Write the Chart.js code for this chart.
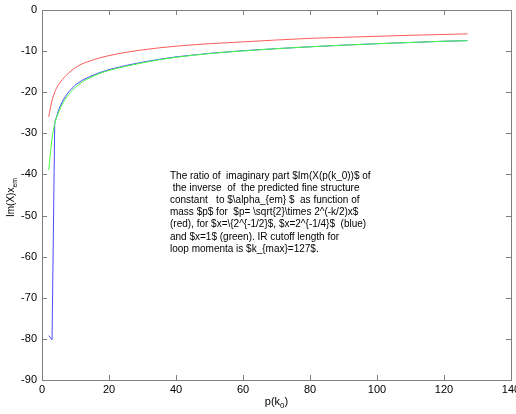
<!DOCTYPE html>
<html>
<head>
<meta charset="utf-8">
<script src="https://cdn.jsdelivr.net/npm/chart.js@4.4.1/dist/chart.umd.min.js"></script>
<style>
  html, body { margin: 0; padding: 0; background: #ffffff; }
  #wrap { width: 516px; height: 414px; }
</style>
</head>
<body>
<div id="wrap"><canvas id="c" width="516" height="414"></canvas></div>
<script>
// Momenta p(k_0) sampled along the curves
const pRed   = [2, 3, 4, 5, 6, 7, 8, 9, 10, 12, 14, 17, 20, 25, 30, 35, 40, 50, 60, 70, 80, 90, 100, 110, 120, 127];
const imRed  = [-26.0, -22.0, -19.6, -18.1, -17.0, -16.1, -15.3, -14.6, -14.0, -13.1, -12.5, -11.7, -11.1, -10.3, -9.7, -9.2, -8.8, -8.2, -7.75, -7.3, -6.9, -6.65, -6.4, -6.15, -5.95, -5.8];

const pBlue  = [2, 3, 3.8, 5, 6, 7, 8, 9, 10, 12, 14, 17, 20, 25, 30, 35, 40, 50, 60, 70, 80, 90, 100, 110, 120, 127];
const imBlue = [-79.2, -80.2, -27.4, -24.2, -22.4, -21.0, -19.9, -19.0, -18.2, -17.1, -16.3, -15.3, -14.5, -13.5, -12.7, -12.0, -11.4, -10.55, -9.9, -9.4, -8.95, -8.55, -8.2, -7.9, -7.6, -7.45];

const pGreen  = [2, 3, 4, 5, 6, 7, 8, 9, 10, 12, 14, 17, 20, 25, 30, 35, 40, 50, 60, 70, 80, 90, 100, 110, 120, 127];
const imGreen = [-38.9, -31.3, -27.0, -24.8, -23.0, -21.6, -20.5, -19.6, -18.8, -17.5, -16.6, -15.5, -14.7, -13.7, -12.85, -12.1, -11.5, -10.6, -9.95, -9.4, -8.95, -8.55, -8.2, -7.9, -7.6, -7.45];

const xTicks = [0, 20, 40, 60, 80, 100, 120, 140];
const yTicks = [-90, -80, -70, -60, -50, -40, -30, -20, -10, 0];

const noteLines = [
  "The ratio of  imaginary part $Im(X(p(k_0))$ of",
  " the inverse  of  the predicted fine structure",
  "constant   to $\\alpha_{em} $  as function of",
  "mass $p$ for  $p= \\sqrt{2}\\times 2^(-k/2)x$",
  "(red), for $x=\\{2^{-1/2}$, $x=2^{-1/4}$  (blue)",
  "and $x=1$ (green). IR cutoff length for",
  "loop momenta is $k_{max}=127$."
];

const toXY = (xs, ys) => xs.map((x, i) => ({ x: x, y: ys[i] }));
const FONT = '"Liberation Sans", Arial, sans-serif';

const decor = {
  id: 'decor',
  afterDraw(chart) {
    const ctx = chart.ctx;
    const a = chart.chartArea;
    const xs = chart.scales.x, ys = chart.scales.y;
    ctx.save();
    ctx.strokeStyle = '#7f7f7f';
    ctx.lineWidth = 1;
    ctx.strokeRect(Math.round(a.left) + 0.5, Math.round(a.top) + 0.5,
                   Math.round(a.right - a.left), Math.round(a.bottom - a.top));
    ctx.beginPath();
    xTicks.forEach(v => {
      const px = Math.round(xs.getPixelForValue(v)) + 0.5;
      ctx.moveTo(px, a.bottom); ctx.lineTo(px, a.bottom - 5);
      ctx.moveTo(px, a.top); ctx.lineTo(px, a.top + 5);
    });
    yTicks.forEach(v => {
      const py = Math.round(ys.getPixelForValue(v)) + 0.5;
      ctx.moveTo(a.left, py); ctx.lineTo(a.left + 5, py);
      ctx.moveTo(a.right, py); ctx.lineTo(a.right - 5, py);
    });
    ctx.stroke();

    // annotation text
    ctx.fillStyle = '#000';
    ctx.font = '10px ' + FONT;
    ctx.textBaseline = 'alphabetic';
    ctx.textAlign = 'left';
    const tx = xs.getPixelForValue(38.2);
    let ty = ys.getPixelForValue(-41.0);
    noteLines.forEach((s, i) => ctx.fillText(s, tx, ty + i * 12.2));

    // x axis title with subscript
    ctx.font = '11px ' + FONT;
    ctx.textAlign = 'left';
    const xl = 'p(k';
    const w1 = ctx.measureText(xl).width;
    ctx.font = '8px ' + FONT;
    const w2 = ctx.measureText('0').width;
    ctx.font = '11px ' + FONT;
    const w3 = ctx.measureText(')').width;
    const total = w1 + w2 + w3;
    let sx = (a.left + a.right) / 2 - total / 2;
    const by = 405;
    ctx.fillText(xl, sx, by);
    ctx.font = '8px ' + FONT;
    ctx.fillText('0', sx + w1, by + 3);
    ctx.font = '11px ' + FONT;
    ctx.fillText(')', sx + w1 + w2, by);

    // y axis title with subscript (rotated)
    ctx.save();
    ctx.translate(14, 217);
    ctx.rotate(-Math.PI / 2);
    ctx.font = '10px ' + FONT;
    ctx.fillText('Im(X)x', 0, 0);
    const wy = ctx.measureText('Im(X)x').width;
    ctx.font = '7px ' + FONT;
    ctx.fillText('em', wy, 3);
    ctx.restore();

    ctx.restore();
  }
};

new Chart(document.getElementById('c'), {
  type: 'scatter',
  data: {
    datasets: [
      { data: toXY(pRed, imRed), borderColor: '#ff5a5a', showLine: true, borderWidth: 1, pointRadius: 0, tension: 0.3, cubicInterpolationMode: 'monotone', order: 1 },
      { data: toXY(pBlue, imBlue), borderColor: '#4a4aff', showLine: true, borderWidth: 1, pointRadius: 0, tension: 0, order: 2 },
      { data: toXY(pGreen, imGreen), borderColor: '#40ff40', showLine: true, borderWidth: 1, pointRadius: 0, tension: 0.3, cubicInterpolationMode: 'monotone', order: 0 }
    ]
  },
  options: {
    responsive: false,
    animation: false,
    events: [],
    layout: { padding: { top: 10, right: 5, left: 0, bottom: 0 } },
    plugins: { legend: { display: false }, tooltip: { enabled: false } },
    scales: {
      x: {
        type: 'linear', min: 0, max: 140,
        afterBuildTicks: s => { s.ticks = xTicks.map(v => ({ value: v })); },
        afterFit: s => { s.height = 34; s.paddingLeft = 0; s.paddingRight = 0; },
        grid: { display: false, drawTicks: false },
        border: { display: false },
        ticks: { color: '#000', font: { family: FONT, size: 11 }, padding: 3, maxRotation: 0, autoSkip: false }
      },
      y: {
        type: 'linear', min: -90, max: 0,
        afterBuildTicks: s => { s.ticks = yTicks.map(v => ({ value: v })); },
        afterFit: s => { s.width = 42; s.paddingTop = 0; s.paddingBottom = 0; },
        grid: { display: false, drawTicks: false },
        border: { display: false },
        ticks: { color: '#000', font: { family: FONT, size: 11 }, padding: 5, autoSkip: false }
      }
    }
  },
  plugins: [decor]
});
</script>
</body>
</html>
